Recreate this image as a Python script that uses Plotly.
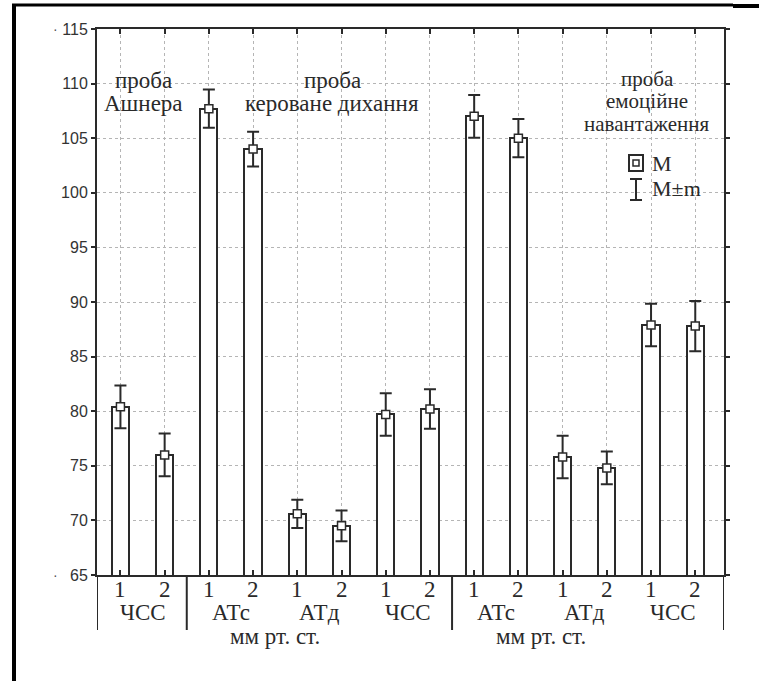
import plotly.graph_objects as go

# ---- data ----
positions = list(range(1, 15))
pair_labels = ["1", "2"] * 7
means = [80.4, 76.0, 107.7, 104.0, 70.6, 69.5, 79.7, 80.2, 107.0, 105.0, 75.8, 74.8, 87.9, 87.8]
errors = [1.95, 1.95, 1.75, 1.6, 1.3, 1.4, 1.95, 1.8, 1.95, 1.75, 1.95, 1.5, 1.95, 2.3]
indicator_labels = ["ЧСС", "АТс", "АТд", "ЧСС", "АТс", "АТд", "ЧСС"]
indicator_pos = [1.5, 3.5, 5.5, 7.5, 9.5, 11.5, 13.5]
unit_label = "мм рт. ст."
unit_pos = [4.5, 10.5]
separators = [2.5, 8.5]
y_ticks = [65, 70, 75, 80, 85, 90, 95, 100, 105, 110, 115]

W, H = 759, 681
L, R, T, B = 97, 724, 29, 575
XR = [0.47, 14.65]
YR = [65, 115]

def px(x):
    return (x - L) / (R - L)

def py(y):
    return (B - y) / (B - T)

serif = "Liberation Serif, Times New Roman, serif"
sans = "Liberation Sans, Arial, sans-serif"
ink = "#2a2a2a"

fig = go.Figure()
fig.add_trace(go.Bar(
    x=positions, y=means, width=0.39,
    marker=dict(color="white", line=dict(color=ink, width=2)),
    hoverinfo="skip", showlegend=False,
))
fig.add_trace(go.Scatter(
    x=positions, y=means, mode="markers",
    marker=dict(symbol="square", size=8, color="white", line=dict(color=ink, width=1.5)),
    error_y=dict(type="data", array=errors, visible=True, color=ink, thickness=2, width=6),
    showlegend=False, hoverinfo="skip",
))

annotations = []
lab_font = dict(family=serif, size=23, color=ink)
for p, lab in zip(positions, pair_labels):
    annotations.append(dict(x=p, y=py(589), xref="x", yref="paper", text=lab, showarrow=False,
                            font=lab_font, yanchor="middle"))
for p, lab in zip(indicator_pos, indicator_labels):
    annotations.append(dict(x=p, y=py(612), xref="x", yref="paper", text=lab, showarrow=False,
                            font=lab_font, yanchor="middle"))
for p in unit_pos:
    annotations.append(dict(x=p, y=py(636), xref="x", yref="paper", text=unit_label, showarrow=False,
                            font=lab_font, yanchor="middle"))

def txt(xp, yp, s, size=23):
    annotations.append(dict(x=px(xp), y=py(yp), xref="paper", yref="paper", text=s, showarrow=False,
                            font=dict(family=serif, size=size, color=ink), xanchor="center", yanchor="middle"))

txt(143, 80, "проба")
txt(143, 104, "Ашнера")
txt(332, 80, "проба")
txt(332, 104, "кероване дихання")
txt(647, 79, "проба", 21)
txt(647, 101, "емоційне", 21)
txt(647, 124, "навантаження", 21)

for yy, s in [(163, "M"), (189, "M±m")]:
    annotations.append(dict(x=px(650), y=py(yy), xref="paper", yref="paper", text=s, showarrow=False,
                            font=dict(family=serif, size=22, color=ink), xanchor="left", yanchor="middle"))

# small stray dots left of the end tick labels
for yv in (115, 65):
    annotations.append(dict(x=px(55), y=yv, xref="paper", yref="y", text="·", showarrow=False,
                            font=dict(family=sans, size=14, color="#555"), xanchor="center", yanchor="middle"))

shapes = []
for xs in [XR[0]] + separators + [XR[1]]:
    shapes.append(dict(type="line", xref="x", yref="paper", x0=xs, x1=xs, y0=0, y1=py(630),
                       line=dict(color=ink, width=2)))
shapes.append(dict(type="rect", xref="paper", yref="paper", x0=px(629), x1=px(643), y0=py(155), y1=py(171),
                   line=dict(color=ink, width=2), fillcolor="white"))
shapes.append(dict(type="rect", xref="paper", yref="paper", x0=px(633), x1=px(639), y0=py(160), y1=py(166),
                   line=dict(color=ink, width=1.5), fillcolor="white"))
shapes.append(dict(type="line", xref="paper", yref="paper", x0=px(636), x1=px(636), y0=py(179), y1=py(200),
                   line=dict(color=ink, width=2)))
for yy in (179, 200):
    shapes.append(dict(type="line", xref="paper", yref="paper", x0=px(630), x1=px(642), y0=py(yy), y1=py(yy),
                       line=dict(color=ink, width=2)))
shapes.append(dict(type="line", xref="paper", yref="paper", x0=px(14), x1=px(14), y0=py(4), y1=py(681),
                   line=dict(color="black", width=4)))
shapes.append(dict(type="line", xref="paper", yref="paper", x0=px(12), x1=px(733), y0=py(5), y1=py(5),
                   line=dict(color="black", width=3)))
shapes.append(dict(type="line", xref="paper", yref="paper", x0=px(733), x1=px(759), y0=py(6), y1=py(6),
                   line=dict(color="black", width=4)))

fig.update_layout(
    width=W, height=H,
    margin=dict(l=L, r=W - R, t=T, b=H - B, pad=0),
    paper_bgcolor="white", plot_bgcolor="white",
    bargap=0, showlegend=False,
    xaxis=dict(range=XR, tickvals=positions, showticklabels=False, ticks="inside", ticklen=5,
               tickcolor=ink, tickwidth=1.5, showgrid=True, gridcolor="#b5b5b5", griddash="dot",
               gridwidth=1, showline=True, linecolor=ink, linewidth=2, mirror="ticks", zeroline=False),
    yaxis=dict(range=YR, tickvals=y_ticks, ticks="outside", ticklen=4, tickcolor=ink, tickwidth=1.5,
               tickfont=dict(family=sans, size=16, color="#333"), showgrid=True, gridcolor="#b5b5b5",
               griddash="dot", gridwidth=1, showline=True, linecolor=ink, linewidth=2, mirror="ticks",
               zeroline=False),
    annotations=annotations, shapes=shapes,
)

fig.write_html("out.html", config={"displayModeBar": False},
               post_script="document.body.style.margin='0px';")
